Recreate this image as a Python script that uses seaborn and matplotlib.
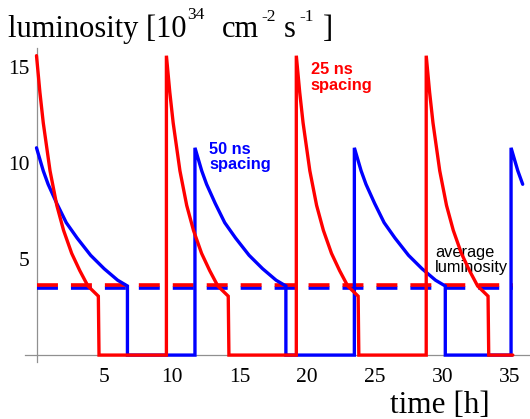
import numpy as np
import pandas as pd
import matplotlib
matplotlib.use("Agg")
import matplotlib.pyplot as plt
from matplotlib.ticker import MultipleLocator
import seaborn as sns

# ---------------- data ----------------
# 25 ns spacing (red): fill start times, decay profile within a fill
red_on = [0.0, 9.6, 19.2, 28.8]
red_dt = [0.0, 0.25, 0.5, 1.0, 1.5, 2.0, 2.6, 3.2, 3.8, 4.57]
red_L = [15.6, 13.7, 12.1, 9.6, 7.8, 6.5, 5.3, 4.4, 3.6, 3.07]
red_drop_dt = 4.62
red_end = 35.2
red_avg = 3.65

# 50 ns spacing (blue)
blue_on = [0.0, 11.71, 23.49, 35.07]
blue_dt = [0.0, 0.5, 0.86, 1.5, 2.2, 3.0, 4.0, 5.0, 6.0, 6.72]
blue_L = [10.8, 9.6, 8.9, 7.9, 6.9, 6.1, 5.2, 4.5, 3.9, 3.6]
blue_drop_dt = 6.72
blue_last_cut = 0.86
blue_avg = 3.5

avg_t = [0.0, 35.2]

x_ticks = [5, 10, 15, 20, 25, 30, 35]
x_labels = ["5", "10", "15", "20", "25", "30", "35"]
y_ticks = [5, 10, 15]
y_labels = ["5", "10", "15"]


def build(on, dt, L, drop_dt, end_t=None, last_cut=None):
    xs, ys = [], []
    n = len(on)
    for i, t0 in enumerate(on):
        if i > 0:
            xs.append(t0)
            ys.append(0.0)
        last = (i == n - 1)
        for d, l in zip(dt, L):
            if last and last_cut is not None and d > last_cut:
                break
            xs.append(t0 + d)
            ys.append(l)
        if last and last_cut is not None:
            break
        xs.append(t0 + drop_dt)
        ys.append(0.0)
        nxt = on[i + 1] if i + 1 < n else end_t
        xs.append(nxt)
        ys.append(0.0)
    return pd.DataFrame({"t": xs, "L": ys})


red_df = build(red_on, red_dt, red_L, red_drop_dt, end_t=red_end)
blue_df = build(blue_on, blue_dt, blue_L, blue_drop_dt, last_cut=blue_last_cut)
avg_df = pd.DataFrame({"t": avg_t, "red": [red_avg, red_avg], "blue": [blue_avg, blue_avg]})

# ---------------- figure ----------------
sns.set_theme(style="white")
serif = ["Liberation Serif", "DejaVu Serif"]
plt.rcParams["font.family"] = serif
plt.rcParams["font.serif"] = serif

W, H = 530, 419
fig = plt.figure(figsize=(W / 100, H / 100), dpi=100)

def px(x0, y0, x1, y1):
    return [x0 / W, 1 - y1 / H, (x1 - x0) / W, (y1 - y0) / H]

ax = fig.add_axes(px(25, 48, 530, 362))

RED = "#ff0000"
BLUE = "#0000ff"
lw = 2.4

sns.lineplot(data=avg_df, x="t", y="blue", ax=ax, color=BLUE, lw=2.6,
             estimator=None, sort=False, zorder=2)
sns.lineplot(data=avg_df, x="t", y="red", ax=ax, color=RED, lw=2.6,
             estimator=None, sort=False, zorder=2)
for line in ax.lines:
    line.set_dashes((5.8, 3.6))
    line.set_dash_capstyle("butt")

sns.lineplot(data=blue_df, x="t", y="L", ax=ax, color=BLUE, lw=lw,
             estimator=None, sort=False, zorder=3)
sns.lineplot(data=red_df, x="t", y="L", ax=ax, color=RED, lw=lw,
             estimator=None, sort=False, zorder=4)

for ln in ax.lines[2:]:
    ln.set_solid_joinstyle("miter")

ax.set_xlim(-0.85, 36.47)
ax.set_ylim(-0.36, 16.0)

# axes through the origin
for s in ["top", "right"]:
    ax.spines[s].set_visible(False)
ax.spines["left"].set_position(("data", 0))
ax.spines["bottom"].set_position(("data", 0))
for s in ["left", "bottom"]:
    ax.spines[s].set_color("#909090")
    ax.spines[s].set_linewidth(0.9)
    ax.spines[s].set_zorder(1)

ax.set_xlabel("")
ax.set_ylabel("")
ax.set_xticks(x_ticks, labels=x_labels, fontfamily="Liberation Serif",
              fontsize=15.5, color="black")
ax.set_yticks(y_ticks, labels=y_labels, fontfamily="Liberation Serif",
              fontsize=15.5, color="black")
ax.xaxis.set_minor_locator(MultipleLocator(1))
ax.yaxis.set_minor_locator(MultipleLocator(0.5))
ax.tick_params(axis="both", which="major", direction="in", length=3.2,
               width=0.8, color="#909090")
ax.tick_params(axis="both", which="minor", direction="in", length=2.0,
               width=0.7, color="#909090")
ax.tick_params(axis="x", which="major", pad=9.0)
ax.tick_params(axis="y", which="major", pad=5.0)
ax.patch.set_alpha(0)

# annotations
sans_b = dict(family=["Liberation Sans", "DejaVu Sans"], weight="bold", fontsize=11.8)
ax.text(12.75, 11.1, "50 ns\nspacing", color=BLUE, ha="left", va="top",
        linespacing=1.02, **sans_b)
ax.text(20.27, 15.25, "25 ns\nspacing", color=RED, ha="left", va="top",
        linespacing=1.02, **sans_b)
ax.text(29.45, 5.75, "average\nluminosity", color="black", ha="left", va="top",
        family=["Liberation Sans", "DejaVu Sans"], fontsize=11.8, linespacing=1.05)

# title pieces (pixel positions, baseline aligned)
def ftext(x, y, s, size):
    fig.text(x / W, 1 - y / H, s, ha="left", va="baseline", fontsize=size,
             family=serif, color="black")

big = 22.0
small = 12.5
ftext(8, 37.3, "luminosity [10", big)
ftext(187, 19.0, "34", small)
ftext(222, 37.3, "cm", big)
ftext(261, 21.0, "-2", small)
ftext(284, 37.3, "s", big)
ftext(299, 21.0, "-1", small)
ftext(323, 37.3, "]", big)

ftext(390, 412.5, "time [h]", 22.5)

fig.savefig("out.png", dpi=100, facecolor="white")
